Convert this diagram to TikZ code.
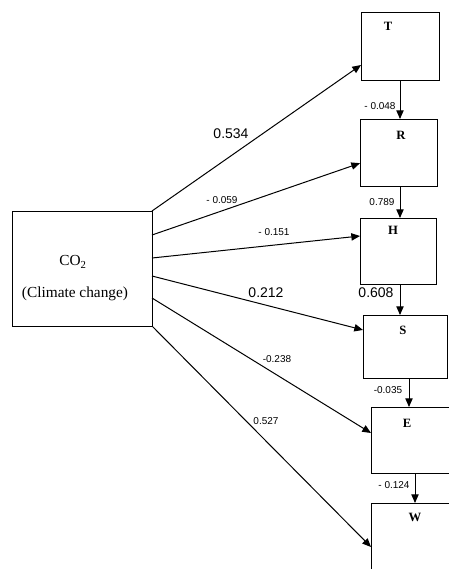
\documentclass[tikz,border=0pt]{standalone}
\usepackage{fontspec}
\setmainfont{Liberation Serif}
\newfontfamily\numfont{Liberation Sans}
\usetikzlibrary{arrows.meta}

\tikzset{every picture/.style={line width=0.75pt}}
\tikzset{
  var/.style={draw, rectangle, inner sep=0pt, outer sep=0pt},
  link/.style={-{Triangle[length=6.5pt,width=5.5pt]}},
  coef/.style={font=\numfont\fontsize{7.5}{9}\selectfont, inner sep=0pt},
  bigcoef/.style={font=\numfont\fontsize{10.5}{12}\selectfont, inner sep=0pt},
  varname/.style={font=\bfseries\fontsize{9.5}{11}\selectfont, inner sep=0pt},
}

\begin{document}
\begin{tikzpicture}[x=0.75pt,y=0.75pt,yscale=-1,xscale=1]
\clip (0,0) rectangle (449,569);

%Shape: Rectangle [CO2]
\node [var, minimum width=105pt, minimum height=86.25pt] (co2) at (82,268.5) {};
%Shape: Rectangle [T]
\node [var, minimum width=58.5pt, minimum height=51pt] (T) at (400,46) {};
%Shape: Rectangle [R]
\node [var, minimum width=57.75pt, minimum height=50.25pt] (R) at (398.5,152.5) {};
%Shape: Rectangle [H]
\node [var, minimum width=57pt, minimum height=49.5pt] (H) at (398,251) {};
%Shape: Rectangle [S]
\node [var, minimum width=63pt, minimum height=47.25pt] (S) at (405,346.5) {};
%Shape: Rectangle [E]
\node [var, minimum width=63pt, minimum height=49.5pt] (E) at (413,440) {};
%Shape: Rectangle [W]
\node [var, minimum width=63pt, minimum height=63pt] (W) at (413,545) {};

%Straight Lines [CO2 to the six variables] (yscale=-1: a positive yshift goes down)
\draw [link] (co2.north east) -- ([yshift=-11.25pt]T.south west);
\draw [link] ([yshift=18pt]co2.north east) -- ([yshift=8pt]R.west);
\draw [link] ([yshift=35.25pt]co2.north east) -- ([yshift=-11.25pt]H.west);
\draw [link] ([yshift=48.75pt]co2.north east) -- ([yshift=-12.4pt]S.west);
\draw [link] ([yshift=65.25pt]co2.north east) -- ([yshift=-5.25pt]E.west);
\draw [link] (co2.south east) -- ([yshift=33pt]W.north west);

%Straight Lines [chain]
\draw [link] (T.south) -- (T.south |- R.north);
\draw [link] (R.south -| T.south) -- (T.south |- H.north);
\draw [link] (H.south -| T.south) -- (T.south |- S.north);
\draw [link] ([xshift=3pt]S.south) -- ([xshift=3pt]S.south |- E.north);
\draw [link] ([xshift=1.5pt]E.south) -- ([xshift=1.5pt]E.south |- W.north);

% Text Node
\node [font=\fontsize{11.5}{13}\selectfont, inner sep=0pt] (co2a) at (73,262) {CO\textsubscript{2}};
% Text Node
\node [font=\fontsize{11.5}{13}\selectfont, inner sep=0pt] (co2b) at (75,294) {(Climate change)};
% Text Node
\node [varname] (tT) at (388,26) {T};
\node [varname] (tR) at (401,135) {R};
\node [varname] (tH) at (393,230) {H};
\node [varname] (tS) at (403,330) {S};
\node [varname] (tE) at (407,423) {E};
\node [varname] (tW) at (415,517) {W};

% Text Node
\node [bigcoef] (c1) at (231,134) {0.534};
\node [coef] (c2) at (222,200) {- 0.059};
\node [coef] (c3) at (274,232) {- 0.151};
\node [bigcoef] (c4) at (266,293) {0.212};
\node [coef] (c5) at (277,359) {-0.238};
\node [coef] (c6) at (266,421) {0.527};
% Text Node
\node [coef] (c7) at (380,106) {- 0.048};
\node [coef] (c8) at (382,202) {0.789};
\node [bigcoef] (c9) at (376,293) {0.608};
\node [coef] (c10) at (388,390) {-0.035};
\node [coef] (c11) at (394,485) {- 0.124};

\end{tikzpicture}
\end{document}
